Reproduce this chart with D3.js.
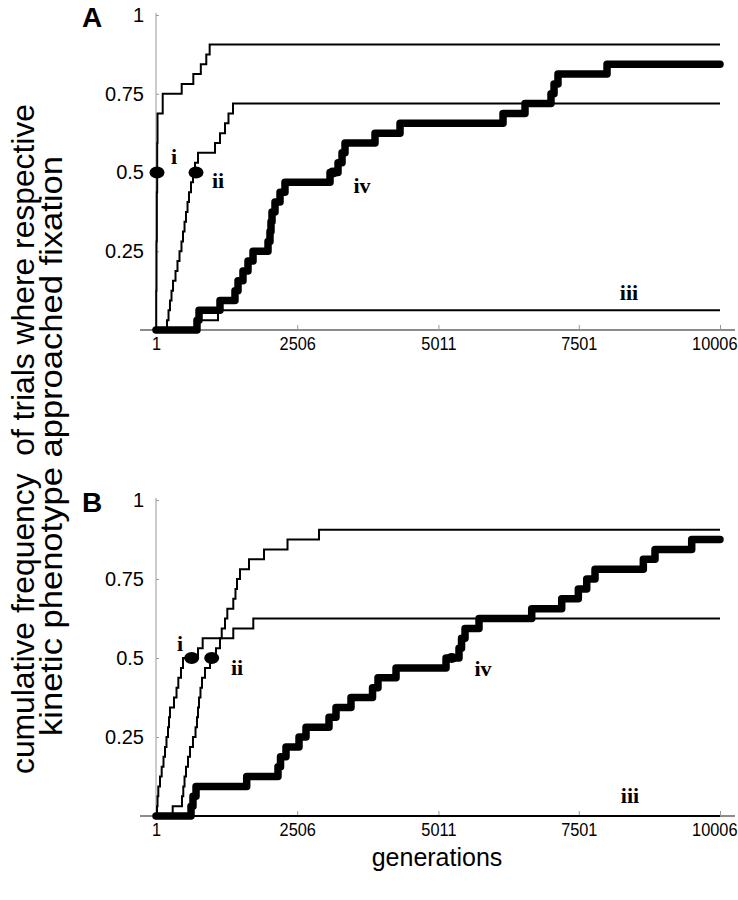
<!DOCTYPE html>
<html><head><meta charset="utf-8">
<script src="https://cdn.jsdelivr.net/npm/d3@7"></script>
<style>body{margin:0;background:#fff}svg{display:block}</style>
</head><body>
<svg id="c" width="738" height="900"></svg>
<script>
// ---- data (counts out of 32 trials, step after each generation) ----
const trials = 32;
const xTicks = [1, 2506, 5011, 7501, 10006];
const yTicks = [0.25, 0.5, 0.75, 1];
const yTickLabels = ["0.25", "0.5", "0.75", "1"];
const genEnd = 10006;

const A_i_gen    = [1, 5, 10, 16, 22, 28, 120, 457, 663, 796, 893, 953];
const A_i_count  = [0, 4, 9, 14, 19, 22, 24, 25, 26, 27, 28, 29];
const A_ii_gen   = [1, 196, 223, 249, 276, 303, 347, 382, 418, 453, 480, 507, 533, 560, 586, 622, 657, 693, 746, 1048, 1136, 1225, 1287, 1367];
const A_ii_count = [0, 1, 2, 3, 4, 5, 6, 7, 8, 9, 10, 11, 12, 13, 14, 15, 16, 17, 18, 19, 20, 21, 22, 23];
const A_iii_gen  = [1, 728, 1101];
const A_iii_count= [0, 1, 2];
const A_iv_gen   = [1, 728, 764, 1136, 1402, 1456, 1544, 1633, 1722, 1988, 2023, 2041, 2059, 2112, 2201, 2289, 3088, 3230, 3301, 3354, 3886, 4330, 6157, 6547, 7008, 7062, 7132, 8002];
const A_iv_count = [0, 1, 2, 3, 4, 5, 6, 7, 8, 9, 10, 11, 12, 13, 14, 15, 16, 17, 18, 19, 20, 21, 22, 23, 24, 25, 26, 27];

const B_i_gen    = [1, 19, 28, 42, 72, 102, 134, 161, 187, 214, 232, 249, 320, 365, 397, 444, 480, 746, 829, 1167, 1225, 1266, 1372, 1411, 1438, 1491, 1651, 1917, 2334, 2893];
const B_i_count  = [0, 1, 2, 3, 4, 5, 6, 7, 8, 9, 10, 11, 12, 13, 14, 15, 16, 17, 18, 19, 20, 21, 22, 23, 24, 25, 26, 27, 28, 29];
const B_ii_gen   = [1, 297, 462, 485, 507, 533, 569, 604, 657, 702, 728, 746, 764, 790, 817, 870, 959, 1065, 1136, 1372, 1727];
const B_ii_count = [0, 1, 2, 3, 4, 5, 6, 7, 8, 9, 10, 11, 12, 13, 14, 15, 16, 17, 18, 19, 20];
const B_iii_gen  = [1];
const B_iii_count= [0];
const B_iv_gen   = [1, 622, 657, 711, 1610, 2165, 2210, 2307, 2538, 2662, 3070, 3194, 3460, 3842, 3939, 4259, 5146, 5376, 5421, 5483, 5731, 6666, 7198, 7493, 7642, 7789, 8646, 8853, 9504];
const B_iv_count = [0, 1, 2, 3, 4, 5, 6, 7, 8, 9, 10, 11, 12, 13, 14, 15, 16, 17, 18, 19, 20, 21, 22, 23, 24, 25, 26, 27, 28];

// generation at which each curve reached 0.5 (dot markers)
const A_half_gen = [19, 711, 3141];
const B_half_gen = [634, 989, 5247];
const A_labels = ["i", "ii", "iv", "iii"];
const A_label_gen = [320, 1101, 3655, 8392];
const A_label_val = [0.55, 0.476, 0.46, 0.12];
const B_labels = ["i", "ii", "iv", "iii"];
const B_label_gen = [427, 1438, 5802, 8410];
const B_label_val = [0.547, 0.47, 0.468, 0.066];

// ---- drawing ----
const svg = d3.select("#c");
const x = d3.scaleLinear().domain([1, genEnd]).range([156, 720]);
const SANS = "'Liberation Sans', Arial, sans-serif";
const SERIF = "'Liberation Serif', 'Times New Roman', serif";

function panel(letter, top, bottom, curves, halfGen, labels, labelGen, labelVal) {
  const y = d3.scaleLinear().domain([0, 1]).range([bottom, top]);
  const g = svg.append("g");
  // y axis
  g.append("line").attr("x1", x(1)).attr("x2", x(1)).attr("y1", y(1) - 2).attr("y2", y(0))
    .attr("stroke", "#999").attr("stroke-width", 1);
  const ya = d3.axisLeft(y).tickValues(yTicks).tickFormat((d, i) => yTickLabels[i]).tickSize(-3).tickPadding(12);
  const yg = g.append("g").attr("transform", `translate(${x(1)},0)`).call(ya);
  yg.select(".domain").remove();
  yg.selectAll(".tick line").attr("stroke", "#999");
  yg.selectAll("text").attr("font-family", SANS).attr("font-size", 20).attr("fill", "#000");
  // x axis
  g.append("line").attr("x1", 140).attr("x2", 735).attr("y1", y(0)).attr("y2", y(0))
    .attr("stroke", "#666").attr("stroke-width", 1.5);
  const xa = d3.axisBottom(x).tickValues(xTicks).tickFormat(d3.format("d")).tickSize(-5).tickPadding(7);
  const xg = g.append("g").attr("transform", `translate(0,${y(0)})`).call(xa);
  xg.select(".domain").remove();
  xg.selectAll(".tick line").attr("stroke", "#999");
  xg.selectAll("text").attr("font-family", SANS).attr("font-size", 19).attr("fill", "#000")
    .attr("transform", "scale(0.86,1)");
  // keep the last label inside the picture
  xg.selectAll("text").filter(d => d === genEnd).attr("text-anchor", "end").attr("x", (737 - x(genEnd)) / 0.86);

  const line = d3.line().x(d => x(d[0])).y(d => y(d[1] / trials)).curve(d3.curveStepAfter);
  curves.forEach(c => {
    const pts = c.gen.map((gv, i) => [gv, c.count[i]]);
    pts.push([genEnd, c.count[c.count.length - 1]]);
    g.append("path").attr("d", line(pts)).attr("fill", "none").attr("stroke", "#000")
      .attr("stroke-width", c.w).attr("stroke-linecap", c.w > 3 ? "round" : "butt")
      .attr("stroke-linejoin", c.w > 3 ? "round" : "miter");
  });
  halfGen.forEach((hg, i) => {
    g.append("ellipse").attr("cx", x(hg)).attr("cy", y(0.5)).attr("rx", i === 2 ? 6 : 7.5).attr("ry", i === 2 ? 5 : 6).attr("fill", "#000");
  });
  labels.forEach((t, i) => {
    g.append("text").attr("x", x(labelGen[i])).attr("y", y(labelVal[i])).attr("text-anchor", "middle")
      .attr("dominant-baseline", "central").attr("font-family", SERIF).attr("font-weight", "bold")
      .attr("font-size", 22).text(t);
  });
  g.append("text").attr("x", 82).attr("y", top + 12).attr("font-family", SANS).attr("font-weight", "bold")
    .attr("font-size", 28).text(letter);
}

panel("A", 15, 330, [
  {gen: A_i_gen, count: A_i_count, w: 2},
  {gen: A_ii_gen, count: A_ii_count, w: 2},
  {gen: A_iii_gen, count: A_iii_count, w: 2},
  {gen: A_iv_gen, count: A_iv_count, w: 7.5}
], A_half_gen, A_labels, A_label_gen, A_label_val);

panel("B", 500, 816, [
  {gen: B_i_gen, count: B_i_count, w: 2},
  {gen: B_ii_gen, count: B_ii_count, w: 2},
  {gen: B_iii_gen, count: B_iii_count, w: 2},
  {gen: B_iv_gen, count: B_iv_count, w: 7.5}
], B_half_gen, B_labels, B_label_gen, B_label_val);

// axis titles
svg.append("text").attr("x", 437).attr("y", 866).attr("text-anchor", "middle")
  .attr("font-family", SANS).attr("font-size", 25).text("generations");
svg.append("text").attr("transform", "translate(34,439) rotate(-90)").attr("text-anchor", "middle")
  .attr("font-family", SANS).attr("font-size", 31).attr("xml:space", "preserve")
  .attr("textLength", 670).attr("lengthAdjust", "spacingAndGlyphs")
  .text("cumulative frequency  of trials where respective");
svg.append("text").attr("transform", "translate(62,446) rotate(-90)").attr("text-anchor", "middle")
  .attr("font-family", SANS).attr("font-size", 31)
  .attr("textLength", 580).attr("lengthAdjust", "spacingAndGlyphs")
  .text("kinetic phenotype approached fixation");
</script>
</body></html>
